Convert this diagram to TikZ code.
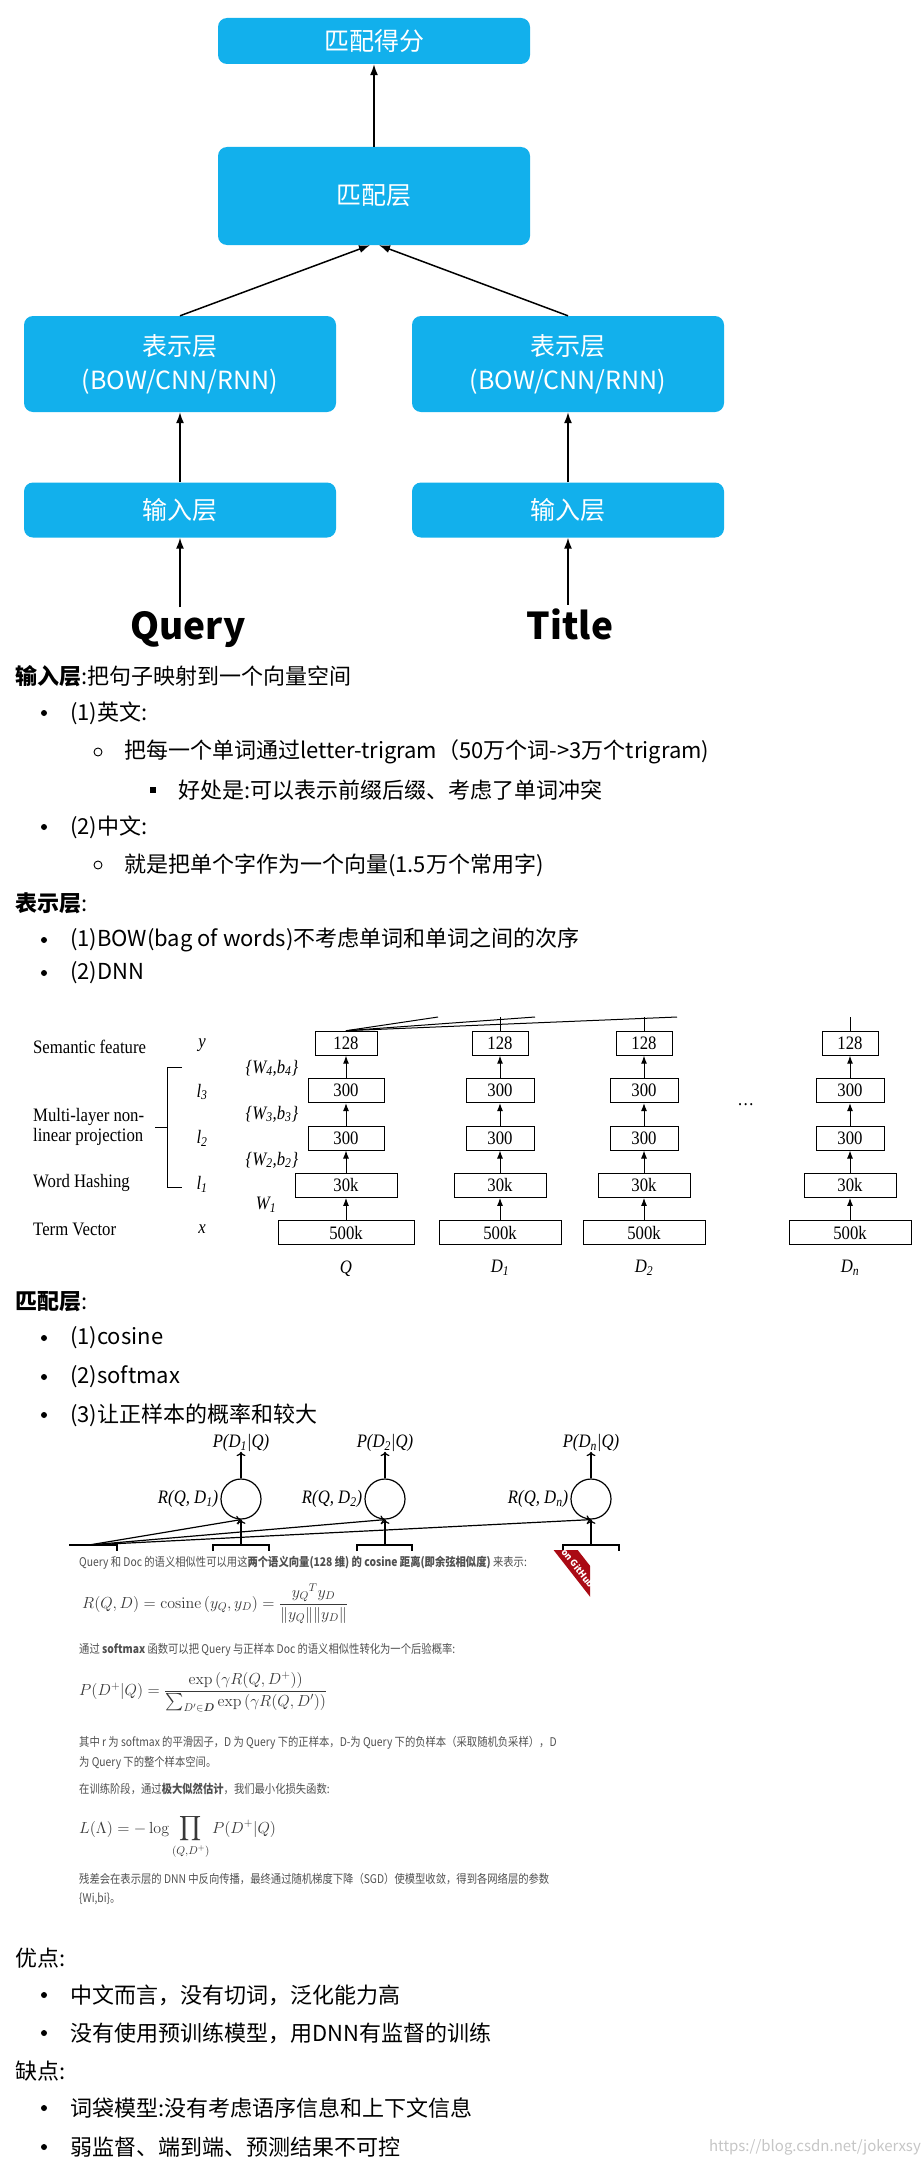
\documentclass[tikz,border=0pt]{standalone}
\usepackage{fix-cm}
\usepackage{amsmath}
\usepackage[no-math]{fontspec}
\setmainfont{Noto Sans CJK SC}
\newfontfamily\dssm{Liberation Serif}[FakeStretch=0.88]
\newfontfamily\shotfont{Noto Sans CJK SC}[FakeStretch=0.86]
\usetikzlibrary{positioning,matrix,arrows.meta}
\definecolor{boxblue}{RGB}{18,176,236}
\definecolor{ribbonred}{RGB}{170,10,20}
\definecolor{shotgray}{RGB}{80,80,80}
\newcommand{\pxfont}[2]{\fontsize{#1}{#2}\selectfont}

\begin{document}
\begin{tikzpicture}[x=1pt,y=-1pt,node distance=1ex,
  layerbox/.style={rounded corners=9pt,fill=boxblue,text=white,minimum width=312pt,
    align=center,font=\pxfont{25}{34}},
  flow/.style={-{Latex[length=11pt,width=8pt]},line width=1.5pt},
  bodytext/.style={anchor=west,inner sep=0pt,font=\pxfont{22}{26}},
  bul/.style={circle,fill,inner sep=0pt,minimum size=6pt},
  hollow/.style={circle,draw,line width=0.9pt,inner sep=0pt,minimum size=8pt},
  sqr/.style={fill,inner sep=0pt,minimum size=6pt},
  dssmvar/.style={inner sep=0pt,font=\dssm\itshape\pxfont{19}{20}},
  dssmlabel/.style={anchor=west,inner sep=0pt,align=left,font=\dssm\pxfont{19}{20}},
  dssmbox/.style={draw,line width=1pt,minimum height=24pt,inner sep=0pt,font=\dssm\pxfont{19}{20}},
  qcol/.style={row 1/.style={minimum width=62pt},row 2/.style={minimum width=76pt},
    row 3/.style={minimum width=76pt},row 4/.style={minimum width=102pt},
    row 5/.style={minimum width=136pt}},
  dcol/.style={row 1/.style={minimum width=56pt},row 2/.style={minimum width=68pt},
    row 3/.style={minimum width=68pt},row 4/.style={minimum width=92pt},
    row 5/.style={minimum width=122pt}},
  uparr/.style={-{Latex[length=8pt,width=6pt]},line width=1pt},
  cosnode/.style={circle,draw,line width=1.2pt,minimum size=40pt,inner sep=0pt},
  opn/.style={->,line width=1.2pt},
  shottext/.style={anchor=west,inner sep=0pt,text=shotgray,font=\shotfont\pxfont{12}{14}},
  formula/.style={anchor=west,inner sep=0pt,text=shotgray!70!black,font=\pxfont{16}{19}}]

  \useasboundingbox (0,0) rectangle (923,2165);
  \fill[white] (0,0) rectangle (923,2165);

  % matching framework
  \node [layerbox,minimum height=46pt] (score) at (374,41) {匹配得分};
  \node [layerbox,minimum height=98pt] (match) at (374,196) {匹配层};
  \node [layerbox,minimum height=96pt] (repQ) at (180,364) {表示层\\(BOW/CNN/RNN)};
  \node [layerbox,minimum height=96pt] (repT) at (568,364) {表示层\\(BOW/CNN/RNN)};
  \node [layerbox,minimum height=55pt] (inQ) at (180,510) {输入层};
  \node [layerbox,minimum height=55pt] (inT) at (568,510) {输入层};
  \node [anchor=base,font=\pxfont{37}{40}\bfseries] (query) at (188,639) {Query};
  \node [anchor=base,font=\pxfont{37}{40}\bfseries] (title) at (570,639) {Title};

  \draw[flow] (inQ.south |- query.north) -- (inQ.south);
  \draw[flow] (inT.south |- title.north) -- (inT.south);
  \draw[flow] (inQ) -- (repQ);
  \draw[flow] (inT) -- (repT);
  \draw[flow] (repQ.north) -- ([xshift=-4pt]match.south);
  \draw[flow] (repT.north) -- ([xshift=5pt]match.south);
  \draw[flow] (match) -- (score);

  % notes
  \node [bodytext] (t1) at (15,676) {\textbf{输入层}:把句子映射到一个向量空间};
  \node [bul] (b1) at (44,713) {};
  \node [bodytext] (t2) at (70,713) {(1)英文:};
  \node [hollow] (o1) at (98,752) {};
  \node [bodytext] (t3) at (124,752) {把每一个单词通过letter-trigram（50万个词->3万个trigram)};
  \node [sqr] (s1) at (153,790) {};
  \node [bodytext] (t4) at (178,790) {好处是:可以表示前缀后缀、考虑了单词冲突};
  \node [bul] (b2) at (44,827) {};
  \node [bodytext] (t5) at (70,827) {(2)中文:};
  \node [hollow] (o2) at (98,865) {};
  \node [bodytext] (t6) at (124,865) {就是把单个字作为一个向量(1.5万个常用字)};
  \node [bodytext] (t7) at (15,903) {\textbf{表示层}:};
  \node [bul] (b3) at (44,940) {};
  \node [bodytext] (t8) at (70,940) {(1)BOW(bag of words)不考虑单词和单词之间的次序};
  \node [bul] (b4) at (44,973) {};
  \node [bodytext] (t9) at (70,973) {(2)DNN};

  % DSSM layers
  \node [dssmlabel] (sem) at (33,1047) {Semantic feature};
  \node [dssmlabel] (mlp) at (33,1127) {Multi-layer non-\\linear projection};
  \node [dssmlabel] (hash) at (33,1183) {Word Hashing};
  \node [dssmlabel] (term) at (33,1229) {Term Vector};

  \node [dssmvar] (vy) at (202,1045) {y};
  \node [dssmvar] (vl3) at (202,1092) {l\textsubscript{3}};
  \node [dssmvar] (vl2) at (202,1138) {l\textsubscript{2}};
  \node [dssmvar] (vl1) at (202,1184) {l\textsubscript{1}};
  \node [dssmvar] (vx) at (202,1229) {x};

  \draw[line width=1pt] (182,1067) -- (167,1067) -- (167,1187) -- (182,1187);
  \draw[line width=1pt] (155,1127) -- (167,1127);

  \node [dssmvar] (w4) at (272,1068) {\{W\textsubscript{4},b\textsubscript{4}\}};
  \node [dssmvar] (w3) at (272,1114) {\{W\textsubscript{3},b\textsubscript{3}\}};
  \node [dssmvar] (w2) at (272,1160) {\{W\textsubscript{2},b\textsubscript{2}\}};
  \node [dssmvar] (w1) at (266,1205) {W\textsubscript{1}};

  \matrix (Q) [matrix of nodes,row sep=22.4pt,nodes={dssmbox},qcol] at (346,1138)
          {
            128 \\
            300 \\
            300 \\
            30k \\
            500k \\
          };
  \matrix (D1) [matrix of nodes,row sep=22.4pt,nodes={dssmbox},dcol] at (500,1138)
          {
            128 \\
            300 \\
            300 \\
            30k \\
            500k \\
          };
  \matrix (D2) [matrix of nodes,row sep=22.4pt,nodes={dssmbox},dcol] at (644,1138)
          {
            128 \\
            300 \\
            300 \\
            30k \\
            500k \\
          };
  \matrix (Dn) [matrix of nodes,row sep=22.4pt,nodes={dssmbox},dcol] at (850,1138)
          {
            128 \\
            300 \\
            300 \\
            30k \\
            500k \\
          };

  \draw[uparr] (Q-5-1) -- (Q-4-1);   \draw[uparr] (Q-4-1) -- (Q-3-1);
  \draw[uparr] (Q-3-1) -- (Q-2-1);   \draw[uparr] (Q-2-1) -- (Q-1-1);
  \draw[uparr] (D1-5-1) -- (D1-4-1); \draw[uparr] (D1-4-1) -- (D1-3-1);
  \draw[uparr] (D1-3-1) -- (D1-2-1); \draw[uparr] (D1-2-1) -- (D1-1-1);
  \draw[uparr] (D2-5-1) -- (D2-4-1); \draw[uparr] (D2-4-1) -- (D2-3-1);
  \draw[uparr] (D2-3-1) -- (D2-2-1); \draw[uparr] (D2-2-1) -- (D2-1-1);
  \draw[uparr] (Dn-5-1) -- (Dn-4-1); \draw[uparr] (Dn-4-1) -- (Dn-3-1);
  \draw[uparr] (Dn-3-1) -- (Dn-2-1); \draw[uparr] (Dn-2-1) -- (Dn-1-1);

  \node [dssmvar,below=15pt of Q-5-1] (lq) {Q};
  \node [dssmvar,below=15pt of D1-5-1] (ld1) {D\textsubscript{1}};
  \node [dssmvar,below=15pt of D2-5-1] (ld2) {D\textsubscript{2}};
  \node [dssmvar,below=15pt of Dn-5-1] (ldn) {D\textsubscript{n}};
  \node [dssmvar] (dots) at (746,1105) {\dots};

  \coordinate (cutA) at (438,1017);
  \coordinate (cutB) at (535,1017);
  \coordinate (cutC) at (677,1017);
  \draw[line width=1pt] (Q-1-1.north) -- (cutA);
  \draw[line width=1pt] (Q-1-1.north) -- (cutB);
  \draw[line width=1pt] (Q-1-1.north) -- (cutC);
  \draw[line width=1pt] (D1-1-1.north) -- (D1-1-1.north |- cutA);
  \draw[line width=1pt] (D2-1-1.north) -- (D2-1-1.north |- cutA);
  \draw[line width=1pt] (Dn-1-1.north) -- (Dn-1-1.north |- cutA);

  % matching layer notes
  \node [bodytext] (t10) at (15,1302) {\textbf{匹配层}:};
  \node [bul] (b5) at (44,1338) {};
  \node [bodytext] (t11) at (70,1338) {(1)cosine};
  \node [bul] (b6) at (44,1377) {};
  \node [bodytext] (t12) at (70,1377) {(2)softmax};
  \node [bul] (b7) at (44,1415) {};
  \node [bodytext] (t13) at (70,1415) {(3)让正样本的概率和较大};

  % posterior part
  \node [dssmvar] (p1) at (241,1443) {P(D\textsubscript{1}|Q)};
  \node [dssmvar] (p2) at (385,1443) {P(D\textsubscript{2}|Q)};
  \node [dssmvar] (pn) at (591,1443) {P(D\textsubscript{n}|Q)};
  \node [cosnode] (c1) at (241,1499) {};
  \node [cosnode] (c2) at (385,1499) {};
  \node [cosnode] (cn) at (591,1499) {};
  \node [dssmvar,left=2pt of c1] (r1) {R(Q, D\textsubscript{1})};
  \node [dssmvar,left=2pt of c2] (r2) {R(Q, D\textsubscript{2})};
  \node [dssmvar,left=2pt of cn] (rn) {R(Q, D\textsubscript{n})};
  \draw[opn] (c1) -- (p1);
  \draw[opn] (c2) -- (p2);
  \draw[opn] (cn) -- (pn);

  \coordinate (sq) at (89,1545);
  \coordinate (bt1) at (241,1545);
  \coordinate (bt2) at (385,1545);
  \coordinate (btn) at (591,1545);
  \draw[line width=1.5pt] (69,1545) -- (117,1545) -- (117,1551);
  \draw[line width=1.2pt] (213,1551) |- (269,1545) -- (269,1551);
  \draw[line width=1.2pt] (357,1551) |- (412,1545) -- (412,1551);
  \draw[line width=1.2pt] (563,1551) |- (619,1545) -- (619,1551);
  \draw[opn] (bt1) -- (c1.south);
  \draw[opn] (bt2) -- (c2.south);
  \draw[opn] (btn) -- (cn.south);
  \draw[opn] (sq) -- (c1.south);
  \draw[opn] (sq) -- (c2.south);
  \draw[opn] (sq) -- (cn.south);

  % GitHub ribbon
  \begin{scope}
    \clip (440,1550) rectangle (590,1680);
    \draw[line width=19pt,ribbonred] (550,1530) -- (650,1658);
    \node [rotate=-52,text=white,inner sep=0pt,font=\pxfont{9}{10}\bfseries] (gh) at (578,1568) {on GitHub};
  \end{scope}

  % screenshot text
  \node [shottext] (g1) at (79,1563) {Query 和 Doc 的语义相似性可以用这\textbf{两个语义向量(128 维) 的 cosine 距离(即余弦相似度)} 来表示:};
  \node [formula] (f1) at (82,1604)
        {$R(Q,D)=\operatorname{cosine}\left(y_Q,y_D\right)=\dfrac{{y_Q}^{T}y_D}{\lVert y_Q\rVert\lVert y_D\rVert}$};
  \node [shottext] (g2) at (79,1650) {通过 \textbf{softmax} 函数可以把 Query 与正样本 Doc 的语义相似性转化为一个后验概率:};
  \node [formula] (f2) at (79,1692)
        {$P(D^{+}|Q)=\dfrac{\exp\left(\gamma R(Q,D^{+})\right)}{\textstyle\sum_{D'\in\boldsymbol{D}}\exp\left(\gamma R(Q,D')\right)}$};
  \node [shottext] (g3) at (79,1743) {其中 r 为 softmax 的平滑因子，D 为 Query 下的正样本，D-为 Query 下的负样本（采取随机负采样），D};
  \node [shottext] (g4) at (79,1763) {为 Query 下的整个样本空间。};
  \node [shottext] (g5) at (79,1789) {在训练阶段，通过\textbf{极大似然估计}，我们最小化损失函数:};
  \node [formula,anchor=base west] (f3) at (79,1833)
        {$L(\Lambda)=-\log\displaystyle\prod_{(Q,D^{+})}P(D^{+}|Q)$};
  \node [shottext] (g6) at (79,1879) {残差会在表示层的 DNN 中反向传播，最终通过随机梯度下降（SGD）使模型收敛，得到各网络层的参数};
  \node [shottext] (g7) at (79,1899) {\{Wi,bi\}。};

  % pros and cons
  \node [bodytext] (t14) at (15,1958) {优点:};
  \node [bul] (b8) at (44,1995) {};
  \node [bodytext] (t15) at (70,1995) {中文而言，没有切词，泛化能力高};
  \node [bul] (b9) at (44,2033) {};
  \node [bodytext] (t16) at (70,2033) {没有使用预训练模型，用DNN有监督的训练};
  \node [bodytext] (t17) at (15,2071) {缺点:};
  \node [bul] (b10) at (44,2108) {};
  \node [bodytext] (t18) at (70,2108) {词袋模型:没有考虑语序信息和上下文信息};
  \node [bul] (b11) at (44,2147) {};
  \node [bodytext] (t19) at (70,2147) {弱监督、端到端、预测结果不可控};

  \node [anchor=east,inner sep=0pt,text=gray!45,font=\pxfont{15}{16}] (wm) at (921,2147)
        {https://blog.csdn.net/jokerxsy};

\end{tikzpicture}
\end{document}
